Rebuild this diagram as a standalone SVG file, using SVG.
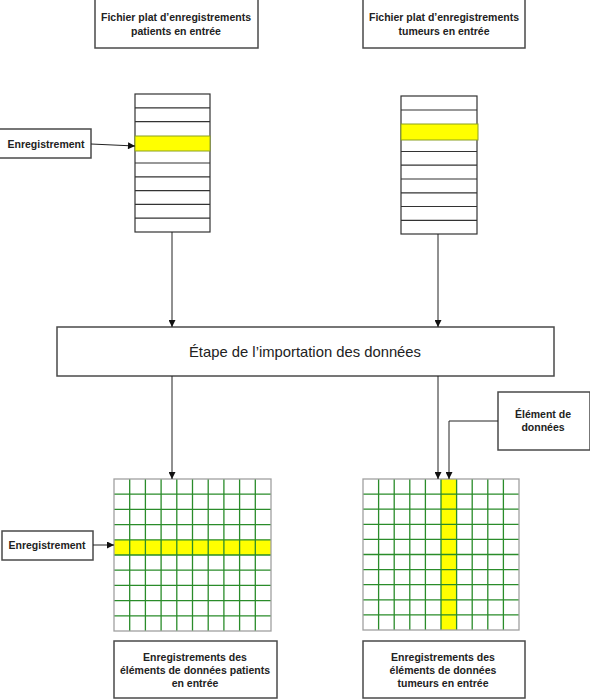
<svg xmlns="http://www.w3.org/2000/svg" width="590" height="699" viewBox="0 0 590 699">
<defs>
<style>
.box{fill:#fff;stroke:#4a4a4a;stroke-width:1.5}
.lbl{font-family:"Liberation Sans",Arial,sans-serif;font-size:10.5px;font-weight:bold;fill:#222;text-anchor:middle}
.main{font-family:"Liberation Sans",Arial,sans-serif;font-size:14.8px;fill:#222;text-anchor:middle}
.stack{fill:#fff;stroke:#333;stroke-width:1.2}
.row{stroke:#333;stroke-width:1.2}
.hl{fill:#ffff00;stroke:#8aa020;stroke-width:1}
.gridout{fill:none;stroke:#a0a0a0;stroke-width:1.3}
.gl{stroke:#2a8c2a;stroke-width:1.3}
.conn{fill:none;stroke:#222;stroke-width:1}
</style>
<marker id="ah" viewBox="0 0 10 10" refX="10" refY="5" markerWidth="9" markerHeight="7" markerUnits="userSpaceOnUse" orient="auto">
<path d="M0,0 L10,5 L0,10 z" fill="#111"/>
</marker>
</defs>

<g id="file-patients">
<rect class="box" x="95" y="-1" width="163" height="49"/>
<text class="lbl" x="176" y="21">Fichier plat d’enregistrements</text>
<text class="lbl" x="176" y="35">patients en entrée</text>
</g>

<g id="file-tumeurs">
<rect class="box" x="363" y="-1" width="162" height="49"/>
<text class="lbl" x="444" y="21">Fichier plat d’enregistrements</text>
<text class="lbl" x="444" y="35">tumeurs en entrée</text>
</g>

<g id="stack-patients">
<rect class="stack" x="135" y="94" width="75" height="138"/>
<line class="row" x1="135" y1="107.8" x2="210" y2="107.8"/>
<line class="row" x1="135" y1="121.6" x2="210" y2="121.6"/>
<line class="row" x1="135" y1="163" x2="210" y2="163"/>
<line class="row" x1="135" y1="176.8" x2="210" y2="176.8"/>
<line class="row" x1="135" y1="190.6" x2="210" y2="190.6"/>
<line class="row" x1="135" y1="204.4" x2="210" y2="204.4"/>
<line class="row" x1="135" y1="218.2" x2="210" y2="218.2"/>
<line class="row" x1="135" y1="150" x2="210" y2="150"/>
<rect class="hl" x="135" y="136" width="75" height="15"/>
</g>

<g id="stack-tumeurs">
<rect class="stack" x="401" y="96" width="76" height="138"/>
<line class="row" x1="401" y1="110" x2="477" y2="110"/>
<line class="row" x1="401" y1="151.5" x2="477" y2="151.5"/>
<line class="row" x1="401" y1="165.2" x2="477" y2="165.2"/>
<line class="row" x1="401" y1="179" x2="477" y2="179"/>
<line class="row" x1="401" y1="192.8" x2="477" y2="192.8"/>
<line class="row" x1="401" y1="206.5" x2="477" y2="206.5"/>
<line class="row" x1="401" y1="220.3" x2="477" y2="220.3"/>
<line class="row" x1="401" y1="138" x2="477" y2="138"/>
<rect class="hl" x="401" y="124" width="77" height="16"/>
</g>

<g id="label-enreg-1">
<rect class="box" x="-1" y="129" width="92" height="29"/>
<text class="lbl" x="46" y="148">Enregistrement</text>
</g>

<g id="import-step">
<rect class="box" x="57" y="327" width="497" height="49"/>
<text class="main" x="305" y="357">Étape de l’importation des données</text>
</g>

<g id="element-label">
<rect class="box" x="498" y="392" width="92" height="58"/>
<text class="lbl" x="543" y="418">Élément de</text>
<text class="lbl" x="543" y="431">données</text>
</g>

<g id="grid-patients">
<rect x="114" y="539.8" width="157" height="15.2" fill="#ffff00"/>
<path class="gl" d="M129.7,479V631M145.4,479V631M161.1,479V631M176.8,479V631M192.5,479V631M208.2,479V631M223.9,479V631M239.6,479V631M255.3,479V631M114,494.2H271M114,509.4H271M114,524.6H271M114,539.8H271M114,555H271M114,570.2H271M114,585.4H271M114,600.6H271M114,615.8H271"/>
<rect class="gridout" x="114" y="479" width="157" height="152"/>
</g>

<g id="grid-tumeurs">
<rect x="441" y="479" width="15.6" height="151" fill="#ffff00"/>
<path class="gl" d="M378.6,479V630M394.2,479V630M409.8,479V630M425.4,479V630M441,479V630M456.6,479V630M472.2,479V630M487.8,479V630M503.4,479V630M363,494.1H519M363,509.2H519M363,524.3H519M363,539.4H519M363,554.5H519M363,569.6H519M363,584.7H519M363,599.8H519M363,614.9H519"/>
<rect class="gridout" x="363" y="479" width="156" height="151"/>
</g>

<g id="label-enreg-2">
<rect class="box" x="2" y="531" width="91" height="29"/>
<text class="lbl" x="47" y="549">Enregistrement</text>
</g>

<g id="out-patients">
<rect class="box" x="114" y="641" width="163" height="57"/>
<text class="lbl" x="195" y="661">Enregistrements des</text>
<text class="lbl" x="195" y="674">éléments de données patients</text>
<text class="lbl" x="195" y="687">en entrée</text>
</g>

<g id="out-tumeurs">
<rect class="box" x="363" y="641" width="162" height="57"/>
<text class="lbl" x="443" y="661">Enregistrements des</text>
<text class="lbl" x="443" y="674">éléments de données</text>
<text class="lbl" x="443" y="687">tumeurs en entrée</text>
</g>

<g id="connectors">
<line class="conn" x1="172" y1="232" x2="172" y2="327" marker-end="url(#ah)"/>
<line class="conn" x1="438" y1="234" x2="438" y2="327" marker-end="url(#ah)"/>
<line class="conn" x1="172" y1="376" x2="172" y2="479" marker-end="url(#ah)"/>
<line class="conn" x1="438" y1="376" x2="438" y2="479" marker-end="url(#ah)"/>
<polyline class="conn" points="498,421 449,421 449,479" marker-end="url(#ah)"/>
<line class="conn" x1="91" y1="144" x2="135" y2="146" marker-end="url(#ah)"/>
<line class="conn" x1="93" y1="545" x2="114" y2="545" marker-end="url(#ah)"/>
</g>
</svg>
